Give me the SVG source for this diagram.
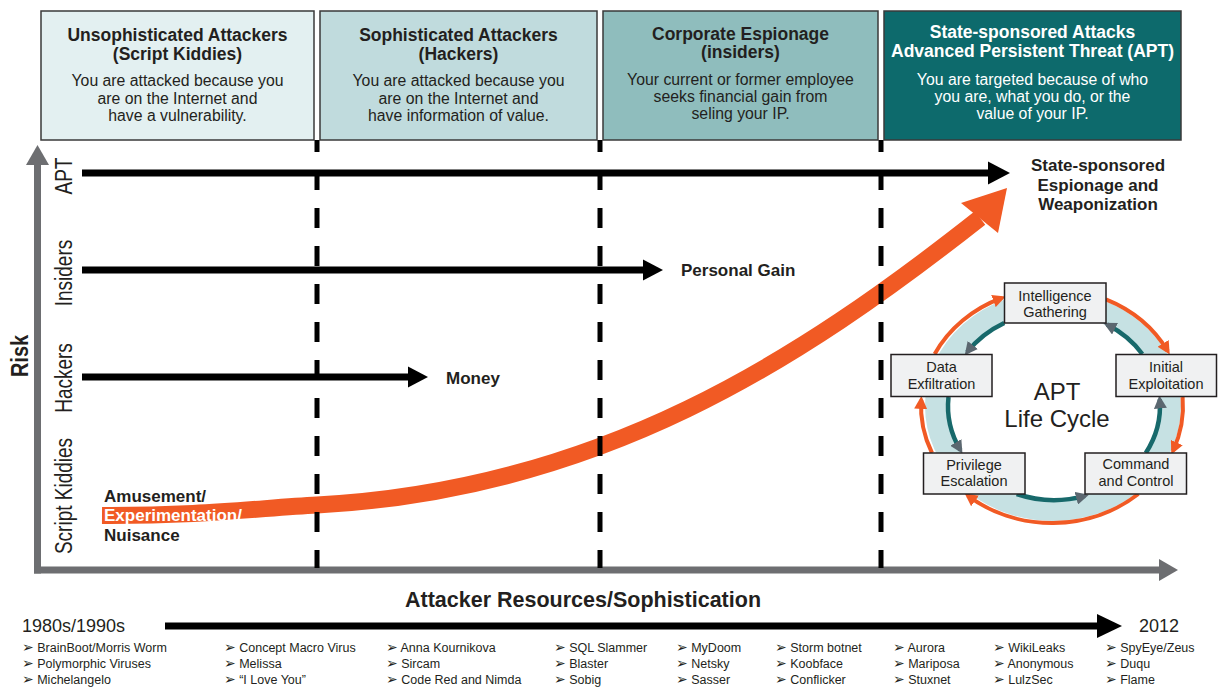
<svg xmlns="http://www.w3.org/2000/svg" width="1219" height="688" viewBox="0 0 1219 688">
<defs>
<style>
.t{font-family:'Liberation Sans',Arial,'DejaVu Sans',sans-serif;fill:#231f20}
.b{font-weight:bold}
.m{text-anchor:middle}
.w{fill:#ffffff}
.hb{stroke:#3a3a3a;stroke-width:1.5}
.ttl{font-size:17.5px;font-weight:bold;text-anchor:middle}
.bod{font-size:15.8px;text-anchor:middle}
.row{font-size:19px;text-anchor:middle}
.lbl{font-size:17px;font-weight:bold}
.li{font-size:12.5px}
.bu{font-size:14px}
.dash{stroke:#000;stroke-width:5;stroke-dasharray:20 18;stroke-dashoffset:8}
.blk{stroke:#000;stroke-width:7}
.axis{stroke:#6d6e71;stroke-width:7}
.cb{fill:#f0f1f2;stroke:#231f20;stroke-width:1.5}
.cbt{font-size:14.5px;text-anchor:middle}
.oarc{fill:none;stroke:#f15a24;stroke-width:4}
.tarc{fill:none;stroke:#17696b;stroke-width:4.5}
</style>
<marker id="oh" markerUnits="userSpaceOnUse" viewBox="0 0 13 13" markerWidth="13" markerHeight="13" refX="9" refY="6.5" orient="auto"><path d="M0,0 L13,6.5 L0,13 z" fill="#f15a24"/></marker>
<marker id="th" markerUnits="userSpaceOnUse" viewBox="0 0 13 13" markerWidth="13" markerHeight="13" refX="9" refY="6.5" orient="auto"><path d="M0,0 L13,6.5 L0,13 z" fill="#5b6770"/></marker>
</defs>
<rect width="1219" height="688" fill="#ffffff"/>

<!-- header boxes -->
<g id="box-script-kiddies">
<rect class="hb" x="41" y="11" width="273" height="129" fill="#e3f0f1"/>
<text class="t ttl" x="177.5" y="41">Unsophisticated Attackers</text>
<text class="t ttl" x="177.5" y="60">(Script Kiddies)</text>
<text class="t bod" x="177.5" y="86">You are attacked because you</text>
<text class="t bod" x="177.5" y="104">are on the Internet and</text>
<text class="t bod" x="177.5" y="121">have a vulnerability.</text>
</g>
<g id="box-hackers">
<rect class="hb" x="320" y="11" width="277" height="129" fill="#c0dbdd"/>
<text class="t ttl" x="458.5" y="41">Sophisticated Attackers</text>
<text class="t ttl" x="458.5" y="60">(Hackers)</text>
<text class="t bod" x="458.5" y="86">You are attacked because you</text>
<text class="t bod" x="458.5" y="104">are on the Internet and</text>
<text class="t bod" x="458.5" y="121">have information of value.</text>
</g>
<g id="box-insiders">
<rect class="hb" x="603" y="11" width="275" height="129" fill="#8fbdbd"/>
<text class="t ttl" x="740.5" y="40">Corporate Espionage</text>
<text class="t ttl" x="740.5" y="58">(insiders)</text>
<text class="t bod" x="740.5" y="85">Your current or former employee</text>
<text class="t bod" x="740.5" y="102">seeks financial gain from</text>
<text class="t bod" x="740.5" y="119">seling your IP.</text>
</g>
<g id="box-apt">
<rect class="hb" x="884" y="11" width="297" height="129" fill="#0d6a6c"/>
<text class="t ttl w" x="1032.5" y="38">State-sponsored Attacks</text>
<text class="t ttl w" x="1032.5" y="56.5">Advanced Persistent Threat (APT)</text>
<text class="t bod w" x="1032.5" y="85">You are targeted because of who</text>
<text class="t bod w" x="1032.5" y="102">you are, what you do, or the</text>
<text class="t bod w" x="1032.5" y="119">value of your IP.</text>
</g>

<!-- axes -->
<g id="axes">
<line class="axis" x1="37.5" y1="573.5" x2="37.5" y2="162"/>
<polygon points="37.5,145 26,165 49,165" fill="#6d6e71"/>
<line class="axis" x1="34" y1="570" x2="1161" y2="570"/>
<polygon points="1178,570 1159,559 1159,581" fill="#6d6e71"/>
<text class="t b m" font-size="20" transform="translate(28,356) rotate(-90) scale(1,1.15)">Risk</text>
<text class="t row" transform="translate(72,176) rotate(-90) scale(1,1.25)">APT</text>
<text class="t row" transform="translate(72,273) rotate(-90) scale(1,1.25)">Insiders</text>
<text class="t row" transform="translate(72,378) rotate(-90) scale(1,1.25)">Hackers</text>
<text class="t row" transform="translate(72,496) rotate(-90) scale(1,1.25)">Script Kiddies</text>
<text class="t b m" font-size="21.5" x="583" y="607">Attacker Resources/Sophistication</text>
</g>

<!-- connectors -->
<g id="connectors">
<path d="M102,515.5 C200,516 260,508 317,505 C600,490 800,360 980,218" fill="none" stroke="#f15a24" stroke-width="17"/>
<polygon points="1007,188 961,203 998,233" fill="#f15a24"/>
<line class="dash" x1="317" y1="140" x2="317" y2="568"/>
<line class="dash" x1="600" y1="140" x2="600" y2="568"/>
<line class="dash" x1="881" y1="140" x2="881" y2="568"/>
<line class="blk" x1="82" y1="173" x2="992" y2="173"/>
<polygon points="1010,173 988,161.5 988,184.5" fill="#000"/>
<line class="blk" x1="82" y1="270" x2="645" y2="270"/>
<polygon points="663,270 643,259.5 643,280.5" fill="#000"/>
<line class="blk" x1="82" y1="377" x2="410" y2="377"/>
<polygon points="428,377 408,366.5 408,387.5" fill="#000"/>
<line class="blk" x1="165" y1="626" x2="1100" y2="626"/>
<polygon points="1122,626 1097,614 1097,638" fill="#000"/>
</g>

<!-- row labels -->
<g id="label-apt-goal">
<text class="t lbl m" x="1098" y="171">State-sponsored</text>
<text class="t lbl m" x="1098" y="191">Espionage and</text>
<text class="t lbl m" x="1098" y="210">Weaponization</text>
</g>
<g id="label-personal-gain"><text class="t lbl" x="681" y="276">Personal Gain</text></g>
<g id="label-money"><text class="t lbl" x="446" y="384">Money</text></g>
<g id="label-amusement">
<text class="t lbl" x="104" y="502">Amusement/</text>
<text class="t lbl w" x="104" y="521">Experimentation/</text>
<text class="t lbl" x="104" y="541">Nuisance</text>
</g>

<!-- APT life cycle -->
<g id="apt-cycle-ring">
<ellipse cx="1053" cy="406" rx="117" ry="104" fill="none" stroke="#c6e1e3" stroke-width="22"/>
<path class="oarc" marker-end="url(#oh)" d="M934.7,354 A131,117 0 0 1 1001.9,297.9"/>
<path class="oarc" marker-end="url(#oh)" d="M1105.9,299.4 A131,117 0 0 1 1167.7,351.1"/>
<path class="oarc" marker-end="url(#oh)" d="M1182.6,397 A131,117 0 0 1 1173,450.8"/>
<path class="oarc" marker-end="url(#oh)" d="M1138.3,494 A131,117 0 0 1 967.8,495.6"/>
<path class="oarc" marker-end="url(#oh)" d="M932,453 A131,117 0 0 1 921.2,399.9"/>
<path class="tarc" marker-end="url(#th)" d="M1004.2,323 A106,94 0 0 0 967.2,352.1"/>
<path class="tarc" marker-end="url(#th)" d="M1142.3,354 A106,94 0 0 0 1107,324.6"/>
<path class="tarc" marker-end="url(#th)" d="M1145.8,453 A106,94 0 0 0 1159.7,399.4"/>
<path class="tarc" marker-end="url(#th)" d="M1016.7,494 A106,94 0 0 0 1085,495.9"/>
<path class="tarc" marker-end="url(#th)" d="M948.5,397 A106,94 0 0 0 960.4,450.1"/>
<text class="t m" font-size="24" x="1057" y="400">APT</text>
<text class="t m" font-size="24" x="1057" y="427">Life Cycle</text>
</g>
<g id="node-intelligence">
<rect class="cb" x="1004.5" y="283" width="101.5" height="40"/>
<text class="t cbt" x="1055" y="301">Intelligence</text>
<text class="t cbt" x="1055" y="317">Gathering</text>
</g>
<g id="node-data-exfiltration">
<rect class="cb" x="891" y="354.5" width="101" height="42"/>
<text class="t cbt" x="941.5" y="372">Data</text>
<text class="t cbt" x="941.5" y="389">Exfiltration</text>
</g>
<g id="node-initial-exploitation">
<rect class="cb" x="1116" y="354.5" width="100.5" height="42"/>
<text class="t cbt" x="1166" y="372">Initial</text>
<text class="t cbt" x="1166" y="389">Exploitation</text>
</g>
<g id="node-privilege-escalation">
<rect class="cb" x="923.5" y="453" width="101.5" height="41"/>
<text class="t cbt" x="974" y="470">Privilege</text>
<text class="t cbt" x="974" y="486">Escalation</text>
</g>
<g id="node-command-control">
<rect class="cb" x="1085" y="453" width="101.5" height="41"/>
<text class="t cbt" x="1136" y="469">Command</text>
<text class="t cbt" x="1136" y="486">and Control</text>
</g>

<!-- timeline -->
<g id="timeline">
<text class="t" font-size="18" x="22" y="632">1980s/1990s</text>
<text class="t" font-size="18" x="1139" y="632">2012</text>
<g class="t li">
<text x="22" y="652"><tspan class="bu">➢</tspan> BrainBoot/Morris Worm</text>
<text x="22" y="668"><tspan class="bu">➢</tspan> Polymorphic Viruses</text>
<text x="22" y="684"><tspan class="bu">➢</tspan> Michelangelo</text>
<text x="224" y="652"><tspan class="bu">➢</tspan> Concept Macro Virus</text>
<text x="224" y="668"><tspan class="bu">➢</tspan> Melissa</text>
<text x="224" y="684"><tspan class="bu">➢</tspan> “I Love You”</text>
<text x="386" y="652"><tspan class="bu">➢</tspan> Anna Kournikova</text>
<text x="386" y="668"><tspan class="bu">➢</tspan> Sircam</text>
<text x="386" y="684"><tspan class="bu">➢</tspan> Code Red and Nimda</text>
<text x="554" y="652"><tspan class="bu">➢</tspan> SQL Slammer</text>
<text x="554" y="668"><tspan class="bu">➢</tspan> Blaster</text>
<text x="554" y="684"><tspan class="bu">➢</tspan> Sobig</text>
<text x="676" y="652"><tspan class="bu">➢</tspan> MyDoom</text>
<text x="676" y="668"><tspan class="bu">➢</tspan> Netsky</text>
<text x="676" y="684"><tspan class="bu">➢</tspan> Sasser</text>
<text x="775" y="652"><tspan class="bu">➢</tspan> Storm botnet</text>
<text x="775" y="668"><tspan class="bu">➢</tspan> Koobface</text>
<text x="775" y="684"><tspan class="bu">➢</tspan> Conflicker</text>
<text x="893" y="652"><tspan class="bu">➢</tspan> Aurora</text>
<text x="893" y="668"><tspan class="bu">➢</tspan> Mariposa</text>
<text x="893" y="684"><tspan class="bu">➢</tspan> Stuxnet</text>
<text x="993" y="652"><tspan class="bu">➢</tspan> WikiLeaks</text>
<text x="993" y="668"><tspan class="bu">➢</tspan> Anonymous</text>
<text x="993" y="684"><tspan class="bu">➢</tspan> LulzSec</text>
<text x="1105" y="652"><tspan class="bu">➢</tspan> SpyEye/Zeus</text>
<text x="1105" y="668"><tspan class="bu">➢</tspan> Duqu</text>
<text x="1105" y="684"><tspan class="bu">➢</tspan> Flame</text>
</g>
</g>
</svg>
